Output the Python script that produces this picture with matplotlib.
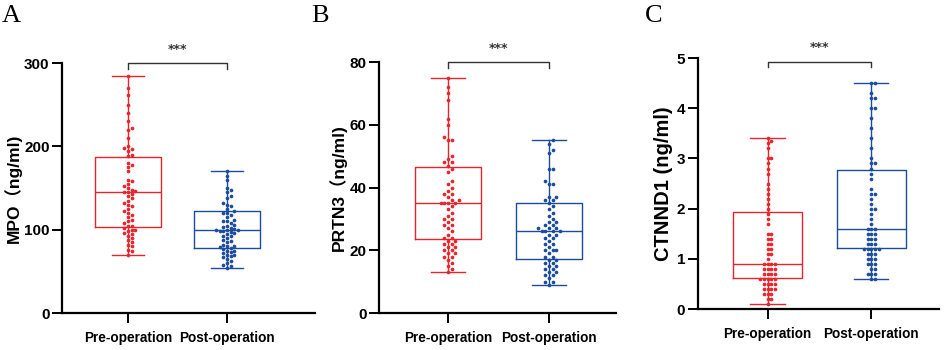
import matplotlib
matplotlib.use("Agg")
import matplotlib.pyplot as plt
import numpy as np

# groups
groups = ["Pre-operation", "Post-operation"]
panel_letters = ["A", "B", "C"]
ylabels = ["MPO（ng/ml)", "PRTN3（ng/ml)", "CTNND1 (ng/ml)"]
yticks = [[0, 100, 200, 300], [0, 20, 40, 60, 80], [0, 1, 2, 3, 4, 5]]

# box stats: min, q1, median, q3, max
mpo_box = [[70, 103, 145, 187, 285], [54, 78, 100, 122, 170]]
prtn3_box = [[13, 23.7, 35, 46.5, 75], [9, 17.2, 26, 35, 55]]
ctnnd1_box = [[0.1, 0.62, 0.9, 1.94, 3.4], [0.6, 1.22, 1.6, 2.78, 4.5]]

# individual points (estimated)
mpo_pre = [285, 270, 262, 250, 240, 230, 222, 220, 210, 200, 198, 197, 195, 190, 188,
           180, 178, 175, 170, 160, 158, 155, 152, 150, 148, 147, 145, 145, 143, 140,
           138, 135, 132, 130, 128, 125, 122, 120, 118, 115, 112, 110, 108, 105, 104,
           102, 100, 100, 98, 96, 95, 93, 90, 88, 85, 82, 80, 76, 74, 70]
mpo_post = [170, 165, 160, 150, 148, 145, 140, 138, 132, 130, 128, 125, 122, 120, 120,
            118, 115, 112, 110, 110, 108, 106, 105, 103, 102, 101, 100, 100, 100, 99,
            98, 97, 96, 95, 93, 92, 90, 88, 86, 85, 82, 80, 80, 79, 78,
            77, 75, 75, 73, 72, 70, 70, 68, 67, 65, 63, 60, 58, 56, 54]
prtn3_pre = [75, 72, 70, 68, 62, 60, 56, 55, 55, 50, 49, 48, 48, 47, 46,
             45, 42, 41, 40, 39, 38, 38, 37, 36, 36, 35, 35, 35, 35, 34,
             33, 32, 31, 30, 30, 29, 28, 28, 27, 26, 25, 24, 24, 23, 23,
             22, 22, 21, 21, 20, 20, 19, 19, 18, 18, 17, 16, 15, 14, 13]
prtn3_post = [55, 54, 52, 51, 46, 46, 42, 41, 41, 37, 37, 36, 36, 35, 34,
              33, 32, 31, 30, 29, 29, 28, 28, 27, 27, 27, 26, 26, 26, 26,
              25, 25, 24, 24, 23, 22, 22, 21, 20, 20, 20, 19, 18, 18, 17,
              17, 16, 16, 15, 15, 14, 14, 13, 13, 12, 12, 11, 10, 10, 9]
ctnnd1_pre = [3.4, 3.35, 3.3, 3.2, 3.0, 3.0, 2.9, 2.8, 2.7, 2.5, 2.4, 2.3, 2.2, 2.1, 2.0,
              1.9, 1.8, 1.7, 1.5, 1.5, 1.4, 1.4, 1.3, 1.3, 1.2, 1.2, 1.1, 1.1, 1.0, 0.9,
              0.9, 0.9, 0.9, 0.8, 0.8, 0.8, 0.8, 0.7, 0.7, 0.7, 0.7, 0.6, 0.6, 0.6, 0.6,
              0.6, 0.5, 0.5, 0.5, 0.5, 0.4, 0.4, 0.4, 0.4, 0.3, 0.3, 0.3, 0.2, 0.2, 0.1]
ctnnd1_post = [4.5, 4.5, 4.3, 4.2, 4.2, 4.0, 4.0, 3.8, 3.6, 3.4, 3.2, 3.0, 2.9, 2.9, 2.8,
               2.7, 2.6, 2.4, 2.3, 2.3, 2.2, 2.1, 2.0, 2.0, 1.9, 1.8, 1.7, 1.6, 1.6, 1.6,
               1.5, 1.5, 1.5, 1.4, 1.4, 1.4, 1.3, 1.3, 1.3, 1.2, 1.2, 1.2, 1.2, 1.2, 1.1,
               1.1, 1.1, 1.0, 1.0, 1.0, 0.9, 0.9, 0.9, 0.8, 0.8, 0.7, 0.7, 0.7, 0.6, 0.6]

box_stats = [mpo_box, prtn3_box, ctnnd1_box]
points = [[mpo_pre, mpo_post], [prtn3_pre, prtn3_post], [ctnnd1_pre, ctnnd1_post]]
bracket_y = [300, 80, 4.93]

RED = "#e8242c"
BLUE = "#1c4c9c"
colors = [RED, BLUE]

# axes placement (figure fractions) and x limits
rects = [[0.0657, 0.1057, 0.268, 0.714],
         [0.4015, 0.1057, 0.251, 0.717],
         [0.739, 0.117, 0.256, 0.717]]
xlims = [(-0.667, 1.889), (-0.683, 1.663), (-0.673, 1.654)]
letter_x = [0.002, 0.330, 0.683]
ylabel_x = [-0.158, -0.135, -0.103]
ylabel_size = [12.5, 12.5, 14.5]

tick_font = ["Liberation Sans", "DejaVu Sans"]
label_font = ["Liberation Sans", "Noto Sans CJK SC", "DejaVu Sans"]


def swarm_offsets(ax, xc, vals, diam_px):
    # simple beeswarm: place each dot at the nearest free horizontal slot
    ypix = ax.transData.transform(np.column_stack([np.full(len(vals), xc), vals]))[:, 1]
    placed = []
    offs = np.zeros(len(vals))
    order = np.argsort(ypix)
    for i in order:
        k = 0
        while True:
            step = (k + 1) // 2 * (1 if k % 2 == 1 else -1)
            dx = step * diam_px
            ok = True
            for (px, py) in placed:
                if (px - dx) ** 2 + (py - ypix[i]) ** 2 < (diam_px * 0.95) ** 2:
                    ok = False
                    break
            if ok:
                break
            k += 1
        placed.append((dx, ypix[i]))
        offs[i] = dx
    x0 = ax.transData.transform([[xc, 0]])[0, 0]
    inv = ax.transData.inverted()
    xs = inv.transform(np.column_stack([x0 + offs, ypix]))[:, 0]
    return xs


fig = plt.figure(figsize=(9.44, 3.5), dpi=100)

for p in range(3):
    ax = fig.add_axes(rects[p])
    ax.set_xlim(*xlims[p])
    ax.set_ylim(0, yticks[p][-1])

    stats = []
    for g in range(2):
        lo, q1, med, q3, hi = box_stats[p][g]
        stats.append(dict(whislo=lo, q1=q1, med=med, q3=q3, whishi=hi, fliers=[]))
    for g in range(2):
        c = colors[g]
        ax.bxp([stats[g]], positions=[g], widths=0.66, showfliers=False,
               boxprops=dict(color=c, linewidth=1.0),
               medianprops=dict(color=c, linewidth=1.0),
               whiskerprops=dict(color=c, linewidth=1.0),
               capprops=dict(color=c, linewidth=1.0),
               capwidths=0.33, manage_ticks=False)
        xs = swarm_offsets(ax, g, points[p][g], 3.6)
        ax.scatter(xs, points[p][g], s=7, color=c, linewidths=0, zorder=3)

    # significance bracket
    by = bracket_y[p]
    drop = yticks[p][-1] * 0.022
    ax.plot([0, 0, 1, 1], [by - drop, by, by, by - drop], color="#333333",
            lw=1.0, clip_on=False)
    ax.text(0.5, by + yticks[p][-1] * 0.03, "***", ha="center", va="bottom",
            fontsize=9, color="#333333", fontweight="bold")

    for s in ["top", "right"]:
        ax.spines[s].set_visible(False)
    for s in ["left", "bottom"]:
        ax.spines[s].set_linewidth(1.6)
    ax.set_xticks([0, 1])
    ax.set_xticklabels(groups)
    ax.set_yticks(yticks[p])
    ax.tick_params(width=1.4, length=7)
    ax.tick_params(axis="x", pad=6)
    ax.tick_params(axis="y", pad=2)
    for lab in ax.get_xticklabels():
        lab.set_family(tick_font)
        lab.set_fontweight("bold")
        lab.set_fontsize(9.8)
    for lab in ax.get_yticklabels():
        lab.set_family(tick_font)
        lab.set_fontweight("bold")
        lab.set_fontsize(11)
    ax.set_ylabel(ylabels[p], family=label_font, fontweight="bold",
                  fontsize=ylabel_size[p])
    ax.yaxis.set_label_coords(ylabel_x[p], 0.5)

    fig.text(letter_x[p], 0.985, panel_letters[p], family="Liberation Serif",
             fontsize=19, ha="left", va="top")

fig.savefig("out.png", dpi=100)
